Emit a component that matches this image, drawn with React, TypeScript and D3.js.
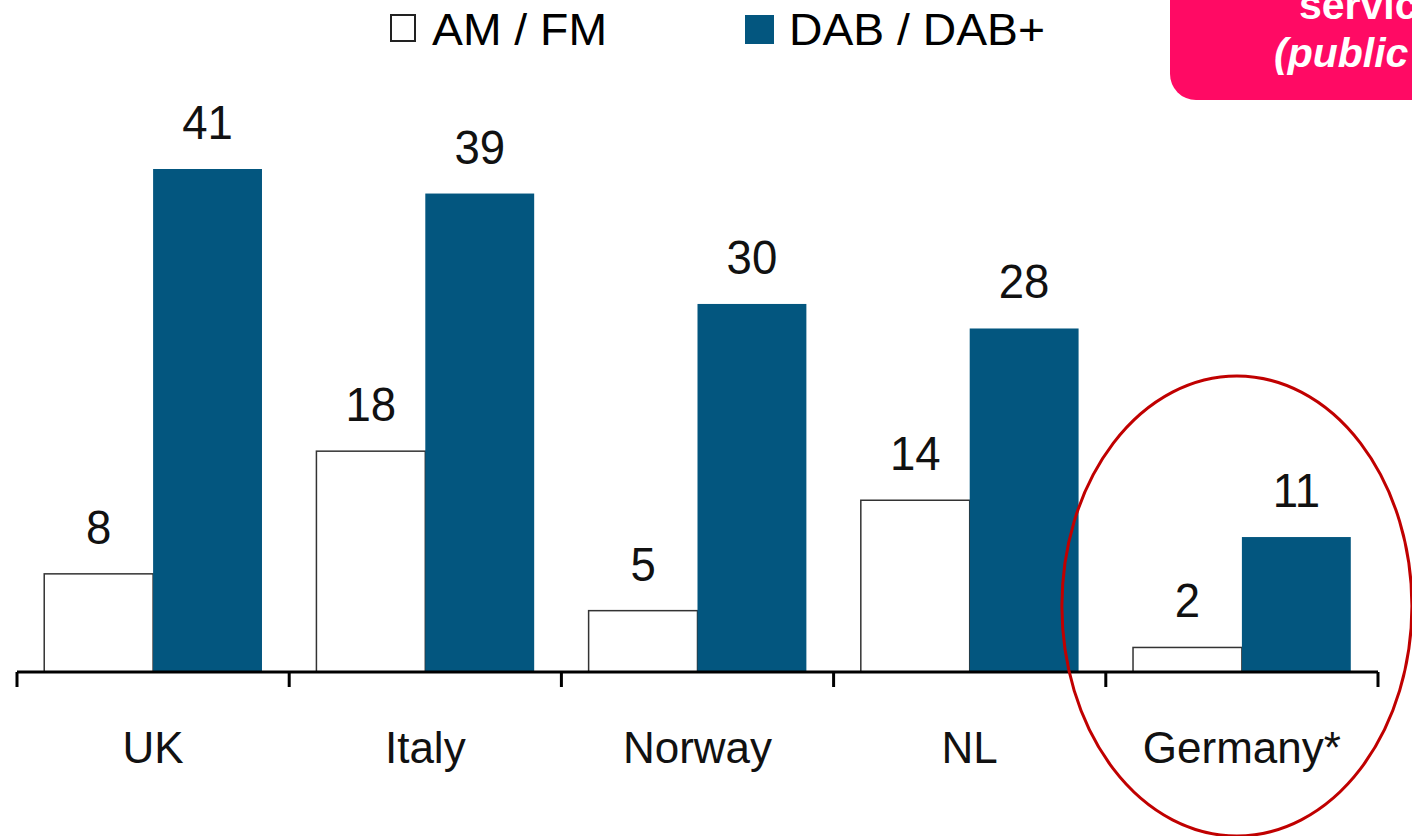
import React, { useEffect, useRef } from 'react'
import * as d3 from 'd3'

const countries = ['UK', 'Italy', 'Norway', 'NL', 'Germany*']
const series = ['AM / FM', 'DAB / DAB+']
const amFm = [8, 18, 5, 14, 2]
const dab = [41, 39, 30, 28, 11]
const calloutLines = ['servic', '(public']

const width = 1412
const height = 836
const margin = { top: 169, right: 34, bottom: 164, left: 17 }
const blue = '#03567f'

const App: React.FC = () => {
  const svgRef = useRef<SVGSVGElement | null>(null)

  useEffect(() => {
    if (!svgRef.current) return
    const svg = d3.select(svgRef.current)
    svg.selectAll('*').remove() // Clear previous SVG content

    const baseY = height - margin.bottom
    const x = d3
      .scaleBand()
      .domain(countries)
      .range([margin.left, width - margin.right])
      .paddingInner(0)
      .paddingOuter(0)

    const inner = d3
      .scaleBand()
      .domain(series)
      .range([0, x.bandwidth()])
      .paddingInner(0)
      .paddingOuter(0.25)

    const y = d3
      .scaleLinear()
      .domain([0, d3.max(dab) || 0])
      .range([baseY, margin.top])

    const rows = countries.map((c, i) => ({ c, values: [amFm[i], dab[i]] }))

    // Callout box, clipped at the top right
    svg
      .append('rect')
      .attr('x', 1170)
      .attr('y', -40)
      .attr('width', 300)
      .attr('height', 140)
      .attr('rx', 26)
      .attr('fill', '#ff0a64')
    svg
      .append('g')
      .selectAll('text')
      .data(calloutLines)
      .join('text')
      .attr('x', (_, i) => (i === 0 ? 1299 : 1274))
      .attr('y', (_, i) => 19 + i * 48)
      .attr('fill', 'white')
      .attr('font-family', 'Liberation Sans, Arial, sans-serif')
      .attr('font-weight', 'bold')
      .attr('font-style', (_, i) => (i === 1 ? 'italic' : 'normal'))
      .attr('font-size', 41)
      .text((d) => d)

    // Legend
    const legend = svg
      .append('g')
      .selectAll('g')
      .data(series)
      .join('g')
      .attr('transform', (_, i) => `translate(${i === 0 ? 390 : 745},0)`)
    legend
      .append('rect')
      .attr('x', (_, i) => (i === 0 ? 1 : 0))
      .attr('y', 15)
      .attr('width', (_, i) => (i === 0 ? 24 : 29))
      .attr('height', (_, i) => (i === 0 ? 26 : 29))
      .attr('fill', (_, i) => (i === 0 ? 'white' : blue))
      .attr('stroke', (_, i) => (i === 0 ? '#222' : 'none'))
      .attr('stroke-width', 2)
    legend
      .append('text')
      .attr('x', (_, i) => (i === 0 ? 42 : 44))
      .attr('y', 45)
      .attr('font-family', 'Liberation Sans, Arial, sans-serif')
      .attr('font-size', 45)
      .attr('textLength', (_, i) => (i === 0 ? 175 : 256))
      .attr('lengthAdjust', 'spacingAndGlyphs')
      .text((d) => d)

    // Bars
    const groups = svg
      .append('g')
      .selectAll('g')
      .data(rows)
      .join('g')
      .attr('transform', (d) => `translate(${x(d.c)},0)`)

    groups
      .selectAll('rect')
      .data((d) => d.values.map((v, j) => ({ s: series[j], v })))
      .join('rect')
      .attr('x', (d) => inner(d.s)!)
      .attr('y', (d) => y(d.v))
      .attr('width', inner.bandwidth())
      .attr('height', (d) => baseY - y(d.v))
      .attr('fill', (d) => (d.s === series[0] ? 'white' : blue))
      .attr('stroke', (d) => (d.s === series[0] ? '#333' : 'none'))
      .attr('stroke-width', 1.5)

    groups
      .selectAll('text')
      .data((d) => d.values.map((v, j) => ({ s: series[j], v })))
      .join('text')
      .attr('x', (d) => inner(d.s)! + inner.bandwidth() / 2)
      .attr('y', (d) => y(d.v) - 30)
      .attr('text-anchor', 'middle')
      .attr('font-family', 'Liberation Sans, Arial, sans-serif')
      .attr('font-size', 49)
      .attr('transform', (d) => {
        const cx = inner(d.s)! + inner.bandwidth() / 2
        return `translate(${cx},0) scale(0.93,1) translate(${-cx},0)`
      })
      .attr('fill', '#111')
      .text((d) => d.v.toString())

    // Axis
    const axis = svg.append('g')
    axis
      .append('line')
      .attr('x1', margin.left)
      .attr('x2', width - margin.right)
      .attr('y1', baseY)
      .attr('y2', baseY)
      .attr('stroke', 'black')
      .attr('stroke-width', 3)
    const ticks = countries.map((c) => x(c)!).concat([width - margin.right])
    axis
      .selectAll('line.tick')
      .data(ticks)
      .join('line')
      .attr('class', 'tick')
      .attr('x1', (d) => d)
      .attr('x2', (d) => d)
      .attr('y1', baseY)
      .attr('y2', baseY + 15)
      .attr('stroke', 'black')
      .attr('stroke-width', 3)
    axis
      .selectAll('text')
      .data(countries)
      .join('text')
      .attr('x', (d) => x(d)! + x.bandwidth() / 2)
      .attr('y', baseY + 91)
      .attr('text-anchor', 'middle')
      .attr('font-family', 'Liberation Sans, Arial, sans-serif')
      .attr('font-size', 44)
      .attr('fill', '#111')
      .text((d) => d)

    // Highlight ellipse around last group
    const last = countries[countries.length - 1]
    svg
      .append('ellipse')
      .attr('cx', x(last)! + x.bandwidth() / 2 - 5)
      .attr('cy', 606)
      .attr('rx', 175)
      .attr('ry', 230)
      .attr('fill', 'none')
      .attr('stroke', '#c00000')
      .attr('stroke-width', 3)
  }, [])

  return (
    <svg
      ref={svgRef}
      width={width}
      height={height}
      style={{ position: 'absolute', left: 0, top: 0, background: 'white' }}
    ></svg>
  )
}

export default App
